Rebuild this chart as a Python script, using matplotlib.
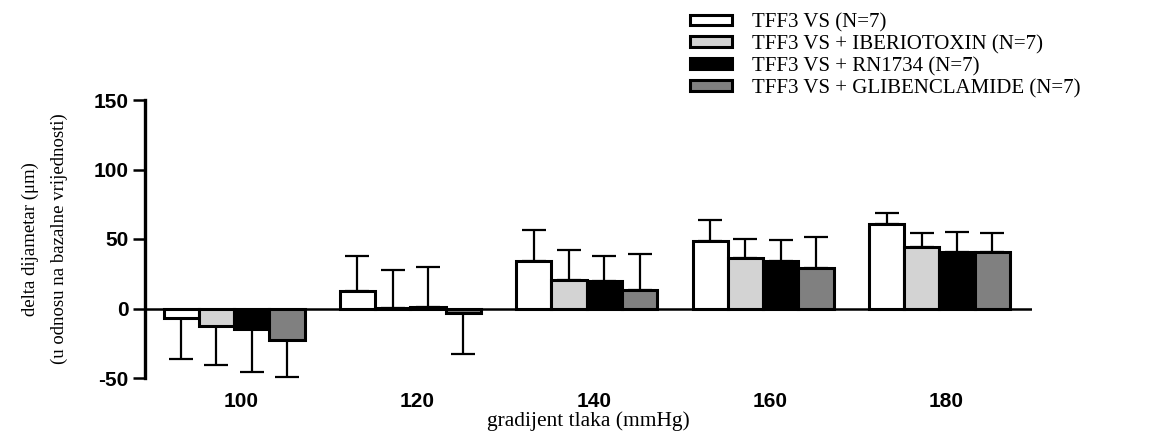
import numpy as np
import matplotlib.pyplot as plt
from matplotlib.patches import Patch

# values (delta diameter, um)
pressures = ["100", "120", "140", "160", "180"]
series_names = [
    "TFF3 VS (N=7)",
    "TFF3 VS + IBERIOTOXIN (N=7)",
    "TFF3 VS + RN1734 (N=7)",
    "TFF3 VS + GLIBENCLAMIDE (N=7)",
]
tff3 = [-7, 12.5, 34, 48.5, 60.5]
tff3_ibtx = [-12.5, 0.5, 20.5, 36, 44.5]
tff3_rn = [-14.5, 1, 20, 34, 40.5]
tff3_glib = [-23, -3, 13, 29, 41]
err_tff3 = [29, 25, 22.5, 15, 8]
err_ibtx = [28.5, 27.5, 21.5, 14, 9.5]
err_rn = [31.5, 29, 18, 15.5, 14.5]
err_glib = [26, 30, 26, 22.5, 13]

means = [tff3, tff3_ibtx, tff3_rn, tff3_glib]
errors = [err_tff3, err_ibtx, err_rn, err_glib]
colors = ["white", "#d3d3d3", "black", "#808080"]

plt.rcParams["axes.unicode_minus"] = False

fig = plt.figure(figsize=(11.64, 4.37), dpi=100)
ax = fig.add_axes([145 / 1164, 1 - 378 / 437, 887 / 1164, 278 / 437])

x = np.arange(len(pressures))
width = 0.2
for i, (m, e, c) in enumerate(zip(means, errors, colors)):
    pos = x + (i - 1.5) * width
    ax.bar(pos, m, width, color=c, edgecolor="black", linewidth=2.2, zorder=2)
    # one-sided error bars, pointing away from zero
    m = np.array(m)
    e = np.array(e)
    lower = np.where(m < 0, e, 0)
    upper = np.where(m >= 0, e, 0)
    ax.errorbar(pos, m, yerr=[lower, upper], fmt="none", ecolor="black",
                elinewidth=1.6, capsize=8.5, capthick=1.6, zorder=1)

ax.axhline(0, color="black", linewidth=1.8, zorder=3)
ax.set_xlim(-0.505, 4.525)
ax.set_ylim(-50, 150)
ax.set_yticks([-50, 0, 50, 100, 150])
ax.set_xticks(x + 0.04)
ax.set_xticklabels(pressures)

for s in ["top", "right", "bottom"]:
    ax.spines[s].set_visible(False)
ax.spines["left"].set_linewidth(2.4)
ax.tick_params(axis="y", length=9, width=1.8, pad=3)
ax.tick_params(axis="x", length=0, pad=10)
for lab in ax.get_xticklabels() + ax.get_yticklabels():
    lab.set_family("Liberation Sans")
    lab.set_weight("bold")
    lab.set_fontsize(15)

ax.set_xlabel("gradijent tlaka (mmHg)", family="Liberation Serif",
              fontsize=15.5, labelpad=0)
ax.set_ylabel("delta dijametar (\u03bcm)\n(u odnosu na bazalne vrijednosti)",
              family="Liberation Serif", fontsize=13.5, linespacing=1.9,
              labelpad=18)

handles = [Patch(facecolor=c, edgecolor="black", linewidth=2.2) for c in colors]
leg = fig.legend(handles, series_names, loc="upper left",
                 bbox_to_anchor=(690 / 1164, 1 - 13 / 437), frameon=False,
                 prop={"family": "Liberation Serif", "size": 15},
                 handlelength=2.0, handleheight=0.4, handletextpad=1.0,
                 labelspacing=0.13, borderaxespad=0, borderpad=0)

fig.savefig("out.png", dpi=100)
